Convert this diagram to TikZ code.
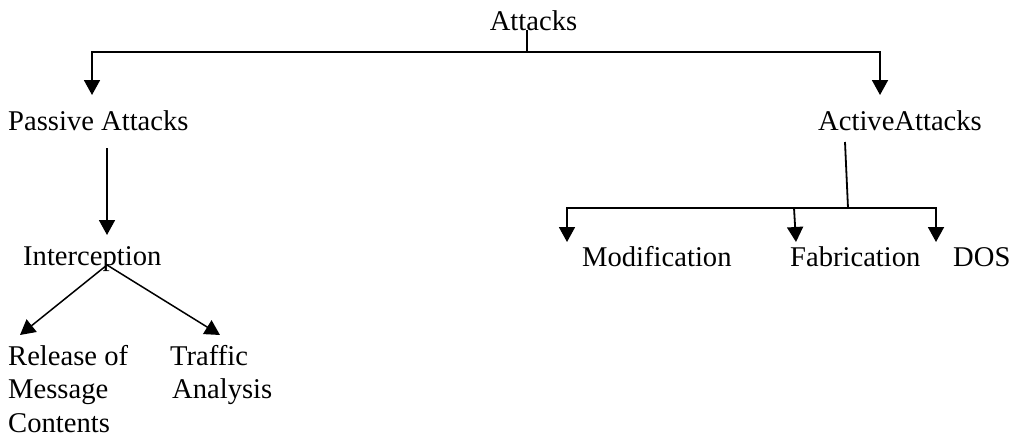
\documentclass[tikz,border=0pt]{standalone}
\usepackage{fontspec}
\setmainfont{Liberation Serif}
\usetikzlibrary{arrows.meta}

\begin{document}
\begin{tikzpicture}[
  x=1pt, y=1pt,
  every node/.style={inner sep=0pt, font=\fontsize{28.6}{33.5}\selectfont},
  link/.style={line width=1.8pt},
  arrowlink/.style={line width=1.8pt, -{Triangle[length=15pt,width=16pt]}}
]
\useasboundingbox (0,0) rectangle (1032,-439);

% Root
\node[anchor=base] (attacks) at (533.5,-30) {Attacks};

% First level
\node[anchor=base west] (passive) at (8,-130) {Passive Attacks};
\node[anchor=base west] (active) at (818,-130) {ActiveAttacks};

% Passive branch
\node[anchor=base west] (intercept) at (23,-265) {Interception};
\node[anchor=north west, align=left] (release) at (8,-345) {Release of\\Message\\Contents};
\node[anchor=north west, align=left] (traffic) at (170,-345) {Traffic\\\hspace{2pt}Analysis};

% Active branch
\node[anchor=base west] (modif) at (582,-266) {Modification};
\node[anchor=base west] (fabric) at (790,-266) {Fabrication};
\node[anchor=base west] (dos) at (953,-266) {DOS};

% Junctions and arrow tips
\coordinate (rootbar) at (527,-52);
\coordinate (pa-tip) at (92,-95);
\coordinate (aa-tip) at (880,-95);
\coordinate (ic-tip) at (107,-235);
\coordinate (rel-tip) at (20,-335);
\coordinate (tra-tip) at (220,-335);
\coordinate (aa-stem) at (845,-142);
\coordinate (aa-bar) at (848,-208);
\coordinate (mo-tip) at (567,-242);
\coordinate (fa-tip) at (796,-242);
\coordinate (do-tip) at (936,-242);

% Connectors
\draw[link] (attacks.base -| rootbar) -- (rootbar);
\draw[arrowlink] (rootbar) -| (pa-tip);
\draw[arrowlink] (rootbar) -| (aa-tip);
\draw[arrowlink, shorten <=18pt] (passive.south -| ic-tip) -- (ic-tip);
\draw[arrowlink, line width=1.5pt] (intercept.base -| ic-tip) -- (rel-tip);
\draw[arrowlink, line width=1.5pt] (intercept.base -| ic-tip) -- (tra-tip);
\draw[link] (aa-stem) -- (aa-bar);
\draw[arrowlink] (aa-bar) -| (mo-tip);
\draw[arrowlink] (aa-bar) -| (do-tip);
\draw[arrowlink] ([xshift=-2pt]aa-bar -| fa-tip) -- (fa-tip);

\end{tikzpicture}
\end{document}
